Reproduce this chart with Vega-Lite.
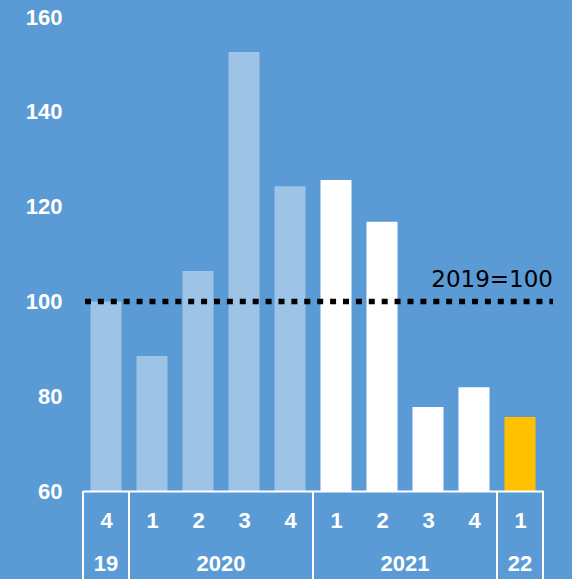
{
  "$schema": "https://vega.github.io/schema/vega-lite/v6.json",
  "width": 460,
  "height": 474,
  "autosize": {"type": "none"},
  "padding": {"left": 83, "top": 17, "right": 29, "bottom": 88},
  "background": "#5B9BD5",
  "config": {"view": {"stroke": null}},
  "datasets": {
    "bars": [
      {"i": 1, "q": "4", "grp": "old", "v": 100.0},
      {"i": 2, "q": "1", "grp": "old", "v": 88.5},
      {"i": 3, "q": "2", "grp": "old", "v": 106.4},
      {"i": 4, "q": "3", "grp": "old", "v": 152.6},
      {"i": 5, "q": "4", "grp": "old", "v": 124.3},
      {"i": 6, "q": "1", "grp": "y2021", "v": 125.6},
      {"i": 7, "q": "2", "grp": "y2021", "v": 116.8},
      {"i": 8, "q": "3", "grp": "y2021", "v": 77.7},
      {"i": 9, "q": "4", "grp": "y2021", "v": 81.9},
      {"i": 10, "q": "1", "grp": "y2022", "v": 75.6}
    ],
    "years": [
      {"yr": "19", "c": 1},
      {"yr": "2020", "c": 3.5},
      {"yr": "2021", "c": 7.5},
      {"yr": "22", "c": 10}
    ],
    "seps": [{"s": 0.5}, {"s": 1.5}, {"s": 5.5}, {"s": 9.5}, {"s": 10.5}],
    "ref": [{"v": 100, "from": 0.543, "to": 10.717, "label": "2019=100"}]
  },
  "layer": [
    {
      "data": {"name": "bars"},
      "mark": {"type": "bar", "size": 31},
      "encoding": {
        "x": {
          "field": "i", "type": "quantitative",
          "scale": {"domain": [0.5, 10.5], "nice": false, "zero": false, "padding": 0},
          "axis": {
            "title": null, "values": [1, 2, 3, 4, 5, 6, 7, 8, 9, 10],
            "labelExpr": "['','4','1','2','3','4','1','2','3','4','1'][datum.value]",
            "grid": false, "ticks": false, "tickSize": 0,
            "domainColor": "#FFFFFF", "domainWidth": 2,
            "labelColor": "#FFFFFF", "labelFont": "Liberation Sans", "labelFontWeight": "bold",
            "labelFontSize": 22, "labelBaseline": "middle", "labelPadding": 29,
            "labelFlush": false, "labelOverlap": false, "zindex": 1
          }
        },
        "y": {
          "field": "v", "type": "quantitative",
          "scale": {"domain": [60, 160], "nice": false, "zero": false},
          "axis": {
            "title": null, "values": [60, 80, 100, 120, 140, 160],
            "grid": false, "ticks": false, "tickSize": 0, "domain": false,
            "labelColor": "#FFFFFF", "labelFont": "Liberation Sans", "labelFontWeight": "bold",
            "labelFontSize": 22, "labelPadding": 21, "labelFlush": false, "labelOverlap": false
          }
        },
        "y2": {"datum": 60},
        "color": {
          "field": "grp", "type": "nominal",
          "scale": {"domain": ["old", "y2021", "y2022"], "range": ["#9DC3E6", "#FFFFFF", "#FFC000"]},
          "legend": null
        }
      }
    },
    {
      "data": {"name": "seps"},
      "mark": {"type": "rule", "color": "#FFFFFF", "strokeWidth": 2},
      "encoding": {
        "x": {"field": "s", "type": "quantitative"},
        "y": {"datum": 60},
        "y2": {"datum": 40}
      }
    },
    {
      "data": {"name": "years"},
      "mark": {"type": "text", "color": "#FFFFFF", "font": "Liberation Sans", "fontWeight": "bold", "fontSize": 22, "baseline": "middle", "align": "center"},
      "encoding": {
        "x": {"field": "c", "type": "quantitative"},
        "y": {"datum": 44.7},
        "text": {"field": "yr"}
      }
    },
    {
      "data": {"name": "ref"},
      "mark": {"type": "rule", "color": "#000000", "strokeWidth": 5.5, "strokeDash": [6, 6.9], "strokeCap": "butt"},
      "encoding": {
        "x": {"field": "from", "type": "quantitative"},
        "x2": {"field": "to"},
        "y": {"field": "v", "type": "quantitative"}
      }
    },
    {
      "data": {"name": "ref"},
      "mark": {"type": "text", "color": "#000000", "font": "DejaVu Sans", "fontSize": 23, "baseline": "middle", "align": "right", "dy": -21},
      "encoding": {
        "x": {"field": "to", "type": "quantitative"},
        "y": {"field": "v", "type": "quantitative"},
        "text": {"field": "label"}
      }
    }
  ]
}
